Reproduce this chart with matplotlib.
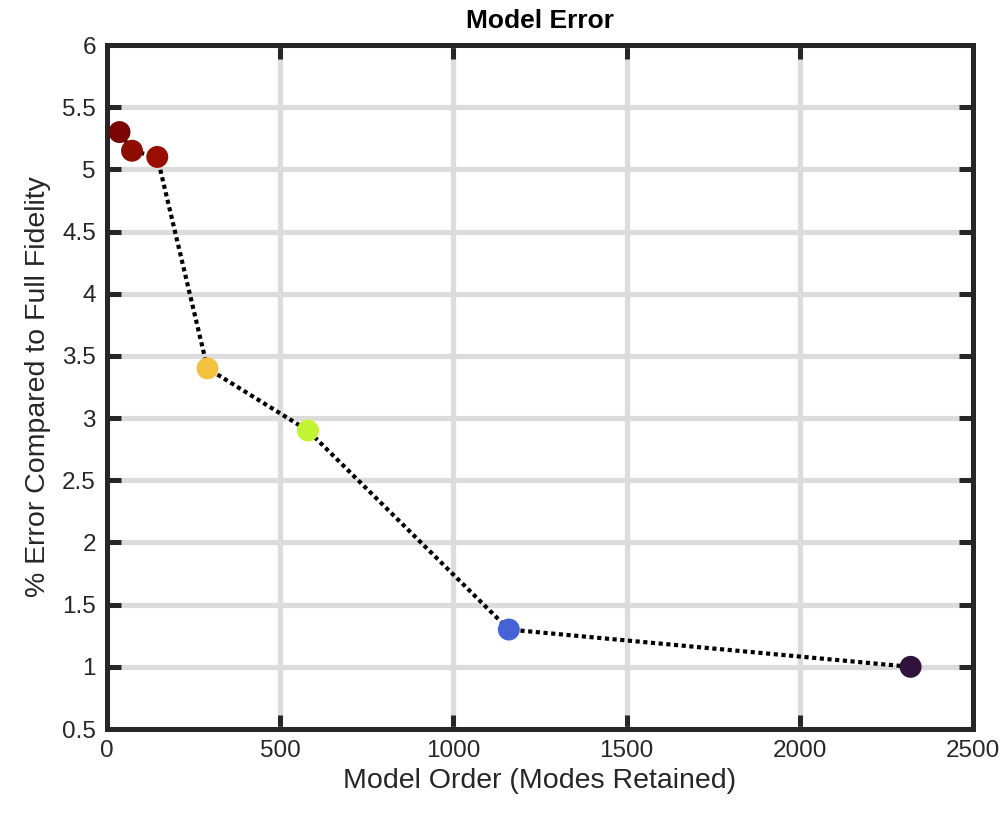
import numpy as np
import matplotlib
matplotlib.use('Agg')
import matplotlib.pyplot as plt

plt.rcParams['font.family'] = ['Liberation Sans', 'DejaVu Sans']

# data
modes = [36, 72, 145, 290, 580, 1160, 2320]
err_pct = [5.30, 5.15, 5.10, 3.40, 2.90, 1.30, 1.00]
pt_colors = ['#7a0403', '#8f0c00', '#990e00', '#f4c242', '#c3f434', '#4662d7', '#30123b']
xticks = [0, 500, 1000, 1500, 2000, 2500]
yticks = [0.5, 1, 1.5, 2, 2.5, 3, 3.5, 4, 4.5, 5, 5.5, 6]

fig = plt.figure(figsize=(10.07, 8.14), dpi=100)
ax = fig.add_axes([0.1063, 0.1044, 0.8599, 0.8403])

ax.plot(modes, err_pct, color='k', lw=3.0, ls=(0, (1, 0.85)), zorder=3)
ax.scatter(modes, err_pct, s=250, c=pt_colors, edgecolors='none', zorder=4)

ax.set_xlim(0, 2500)
ax.set_ylim(0.5, 6)
ax.set_xticks(xticks)
ax.set_yticks(yticks)
ax.set_yticklabels(['0.5', '1', '1.5', '2', '2.5', '3', '3.5', '4', '4.5', '5', '5.5', '6'])

ax.grid(True, color='#dcdcdc', lw=3.8, zorder=0)
ax.set_axisbelow(True)
for s in ax.spines.values():
    s.set_linewidth(3.6)
    s.set_color('#262626')
ax.tick_params(direction='in', length=10, width=3.6, color='#262626',
               top=True, right=True, labelsize=17.5, labelcolor='#262626', pad=8)

ax.set_xlabel('Model Order (Modes Retained)', fontsize=20.5, color='#262626', labelpad=4)
ax.set_ylabel('% Error Compared to Full Fidelity', fontsize=20.5, color='#262626', labelpad=8)
ax.set_title('Model Error', fontsize=19, fontweight='bold', pad=12)

fig.savefig('out.png', dpi=100)
